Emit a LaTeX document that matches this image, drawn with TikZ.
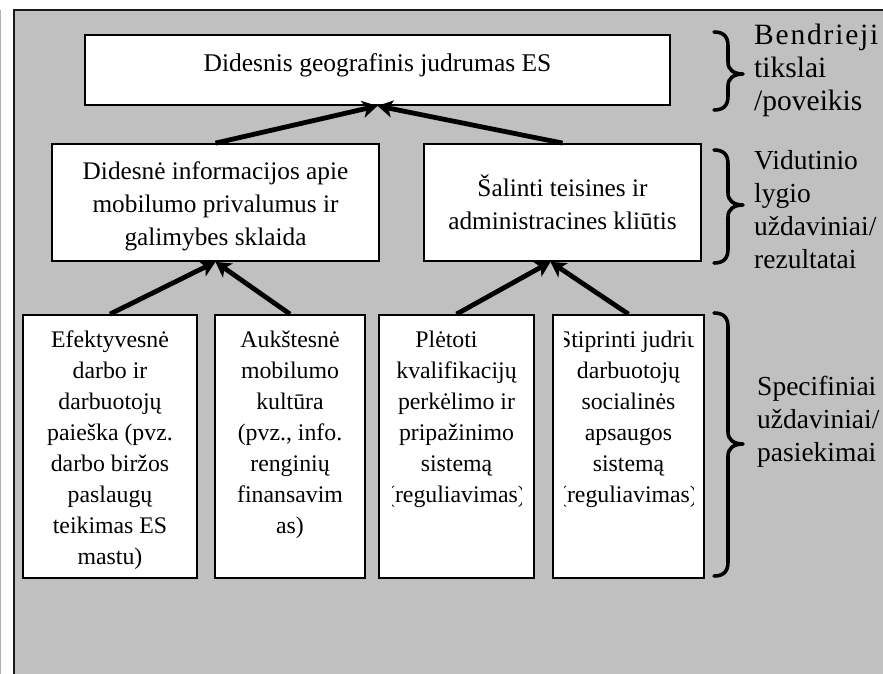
\documentclass[tikz,border=0pt]{standalone}
\usepackage{fontspec}
\setmainfont{Liberation Serif}
\usetikzlibrary{arrows.meta}
\definecolor{panelgray}{RGB}{192,192,192}
\definecolor{edgegray}{RGB}{175,175,175}

% right-pointing curly brace: top y, tip y, bottom y
\newcommand{\sidebrace}[3]{%
  \draw[bracestroke] (714,#1) .. controls (724,#1) and (728,#1+5) .. (728,#1+14)
    -- (728,#2-12) .. controls (728,#2-4) and (734,#2) .. (743,#2)
    .. controls (734,#2) and (728,#2+4) .. (728,#2+12)
    -- (728,#3-14) .. controls (728,#3-5) and (724,#3) .. (714,#3);}

\begin{document}
\begin{tikzpicture}[x=1pt,y=-1pt,
  box/.style={draw=black, line width=1.8pt, fill=white, inner sep=0pt},
  boxtext/.style={inner sep=0pt, align=center},
  toptext/.style={boxtext, font=\fontsize{25.5}{30}\selectfont},
  midtext/.style={boxtext, font=\fontsize{25.3}{33.3}\selectfont},
  lowtext/.style={boxtext, anchor=north, font=\fontsize{23.8}{31}\selectfont},
  sidetext/.style={inner sep=0pt, anchor=north west, align=left,
                   font=\fontsize{27.5}{33}\selectfont},
  link/.style={line width=4.8pt, -{Stealth[length=15pt,width=17pt,inset=4pt]}},
  bracestroke/.style={line width=3.6pt, line cap=round, line join=round}
]
\useasboundingbox (0,0) rectangle (883,674);
\fill[white] (0,0) rectangle (883,674);

% grey panel with its frame
\fill[panelgray] (13.5,10) rectangle (883,674);
\draw[black!90, line width=2pt] (13.5,674) -- (13.5,10) -- (883,10);
\draw[edgegray, line width=1pt] (0.5,10) -- (0.5,674);

% boxes
\node[box, minimum width=585pt, minimum height=70pt] (top) at (377.5,70) {};
\node[box, minimum width=327pt, minimum height=117pt] (m1) at (215.5,202.5) {};
\node[box, minimum width=277pt, minimum height=117pt] (m2) at (562.5,202.5) {};
\node[box, minimum width=174pt, minimum height=263pt] (b1) at (110,446.5) {};
\node[box, minimum width=150pt, minimum height=263pt] (b2) at (290,446.5) {};
\node[box, minimum width=155pt, minimum height=263pt] (b3) at (456.5,446.5) {};
\node[box, minimum width=151pt, minimum height=263pt] (b4) at (628.5,446.5) {};

% box texts
\node[toptext, anchor=base] (ttop) at (377.5,72) {Didesnis geografinis judrumas ES};
\node[midtext] (tm1) at (215.5,206) {\strut Didesnė informacijos apie\\mobilumo privalumus ir\\galimybes sklaida\strut};
\node[midtext] (tm2) at (562.5,206) {\strut Šalinti teisines ir\\administracines kliūtis\strut};

\node[lowtext] (tb1) at ([yshift=-11pt]b1.north) {\strut Efektyvesnė\\darbo ir\\darbuotojų\\paieška (pvz.\\darbo biržos\\paslaugų\\teikimas ES\\mastu)\strut};
\node[lowtext] (tb2) at ([yshift=-11pt]b2.north) {\strut Aukštesnė\\mobilumo\\kultūra\\(pvz., info.\\renginių\\finansavim\\as)\strut};
\begin{scope}
  \clip ([xshift=14pt]b3.north west) rectangle ([xshift=-13pt]b3.south east);
  \node[lowtext] (tb3) at ([yshift=-11pt]b3.north) {\strut Plėtoti\hspace*{20pt}\\kvalifikacijų\\perkėlimo ir\\pripažinimo\\sistemą\\(reguliavimas)\strut};
\end{scope}
\begin{scope}
  \clip ([xshift=12pt]b4.north west) rectangle ([xshift=-11pt]b4.south east);
  \node[lowtext] (tb4) at ([yshift=-11pt]b4.north) {\strut Stiprinti judrių\\darbuotojų\\socialinės\\apsaugos\\sistemą\\(reguliavimas)\strut};
\end{scope}

% connectors
\draw[link] (b1.north) -- (m1.south);
\draw[link] (b2.north) -- (m1.south);
\draw[link] (b3.north) -- ([xshift=-12pt]m2.south);
\draw[link] (b4.north) -- ([xshift=-12pt]m2.south);
\draw[link] (m1.north) -- (top.south);
\draw[link] (m2.north) -- (top.south);

% level braces and their captions
\sidebrace{32}{74}{110}
\sidebrace{150}{205}{263}
\sidebrace{313}{444}{576}
\node[sidetext, font=\fontsize{29.5}{33}\selectfont] (s1) at (754,21) {\strut B\kern1.8pt e\kern1.8pt n\kern1.8pt d\kern1.8pt r\kern1.8pt i\kern1.8pt e\kern1.8pt j\kern1.8pt i\\tikslai\\/poveikis};
\node[sidetext] (s2) at (754,146) {\strut Vidutinio\\lygio\\uždaviniai/\\rezultatai};
\node[sidetext] (s3) at (757,372) {\strut Specifiniai\\uždaviniai/\\pasiekimai};
\end{tikzpicture}
\end{document}
